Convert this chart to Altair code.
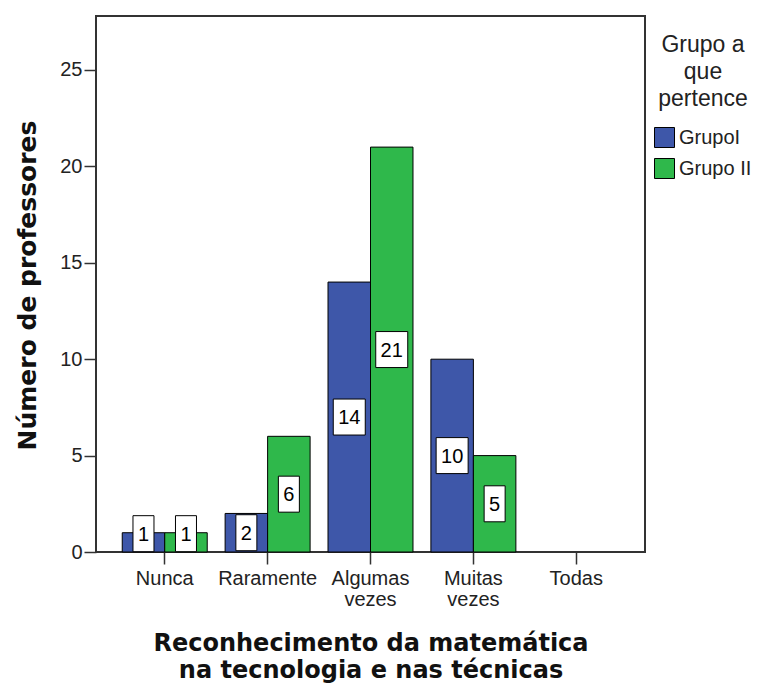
import altair as alt
import pandas as pd

categories = ["Nunca", "Raramente", "Algumas vezes", "Muitas vezes", "Todas"]
groups = ["GrupoI", "Grupo II"]
grupo_1 = [1, 2, 14, 10, 0]
grupo_2 = [1, 6, 21, 5, 0]
colors = ["#3e57a9", "#2fb84b"]
y_ticks = [0, 5, 10, 15, 20, 25]

rows = []
for c, a, b in zip(categories, grupo_1, grupo_2):
    rows.append({"cat": c, "grupo": groups[0], "n": a})
    rows.append({"cat": c, "grupo": groups[1], "n": b})
df = pd.DataFrame(rows)

x_enc = alt.X(
    "cat:N",
    sort=categories,
    scale=alt.Scale(domain=categories, paddingInner=0.174, paddingOuter=0.255),
    axis=alt.Axis(
        labelAngle=0,
        labelExpr="split(datum.label, ' ')",
        labelLineHeight=21,
        labelFont="Liberation Sans",
        labelFontSize=20,
        labelColor="#222222",
        labelPadding=4,
        tickSize=12,
        tickWidth=1.5,
        tickColor="#333333",
        domain=False,
        title=["Reconhecimento da matemática", "na tecnologia e nas técnicas"],
        titleFont="DejaVu Sans",
        titleFontSize=24,
        titleFontWeight="bold",
        titleColor="#111111",
        titleLineHeight=27,
        titleBaseline="alphabetic",
        titleX=274.5,
        titleY=98,
    ),
)
xoff_enc = alt.XOffset("grupo:N", scale=alt.Scale(domain=groups, paddingInner=0, paddingOuter=0))

y_axis = alt.Axis(
    values=y_ticks,
    grid=False,
    domain=False,
    tickSize=12,
    tickWidth=1.5,
    tickColor="#333333",
    labelFont="Liberation Sans",
    labelFontSize=20,
    labelColor="#222222",
    labelPadding=2,
    title="Número de professores",
    titleFont="DejaVu Sans",
    titleFontSize=25,
    titleFontWeight="bold",
    titleColor="#111111",
    titleAngle=270,
    titleAlign="center",
    titleBaseline="alphabetic",
    titleX=-61,
    titleY=269,
)
y_scale = alt.Scale(domain=[0, 27.8], nice=False, zero=True)

base = alt.Chart(df)

bars = base.transform_filter("datum.n > 0").mark_bar(stroke="black", strokeWidth=1).encode(
    x=x_enc,
    xOffset=xoff_enc,
    y=alt.Y("n:Q", scale=y_scale, axis=y_axis),
    color=alt.Color(
        "grupo:N",
        scale=alt.Scale(domain=groups, range=colors),
        legend=alt.Legend(
            orient="none",
            legendX=558,
            legendY=18,
            padding=0,
            title=["Grupo a", "que", "pertence"],
            titleFont="Liberation Sans",
            titleFontSize=23,
            titleFontWeight="normal",
            titleColor="#222222",
            titleLineHeight=27,
            titleAnchor="middle",
            titleAlign="center",
            titlePadding=16,
            labelFont="Liberation Sans",
            labelFontSize=20,
            labelColor="#222222",
            labelOffset=4,
            symbolType="square",
            symbolSize=400,
            symbolStrokeColor="black",
            symbolStrokeWidth=1,
            symbolOpacity=1,
            rowPadding=6,
        ),
    ),
)

lab = base.transform_filter("datum.n > 0").transform_calculate(
    ly="max(datum.n / 2, 0.95)"
)

y_lab = alt.Y("ly:Q", scale=y_scale, axis=y_axis)

box1 = lab.transform_filter("datum.n < 10").mark_point(
    shape="M-1.05,-1.8L1.05,-1.8L1.05,1.8L-1.05,1.8Z",
    size=400, filled=True, fill="white", stroke="black", strokeWidth=1, opacity=1,
).encode(x=x_enc, xOffset=xoff_enc, y=y_lab)

box2 = lab.transform_filter("datum.n >= 10").mark_point(
    shape="M-1.6,-1.8L1.6,-1.8L1.6,1.8L-1.6,1.8Z",
    size=400, filled=True, fill="white", stroke="black", strokeWidth=1, opacity=1,
).encode(x=x_enc, xOffset=xoff_enc, y=y_lab)

txt = lab.mark_text(
    font="Liberation Sans", fontSize=20, color="black", baseline="middle", align="center", dy=1
).encode(x=x_enc, xOffset=xoff_enc, y=y_lab, text="n:Q")

chart = alt.layer(bars, box1, box2, txt).properties(
    width=549,
    height=536,
    background="white",
    autosize=alt.AutoSizeParams(type="none"),
    padding={"left": 88, "top": 8, "right": 109, "bottom": 133},
).configure_view(
    stroke="#333333", strokeWidth=2
)

chart.save("out.html", embed_options={"renderer": "svg", "actions": False})
